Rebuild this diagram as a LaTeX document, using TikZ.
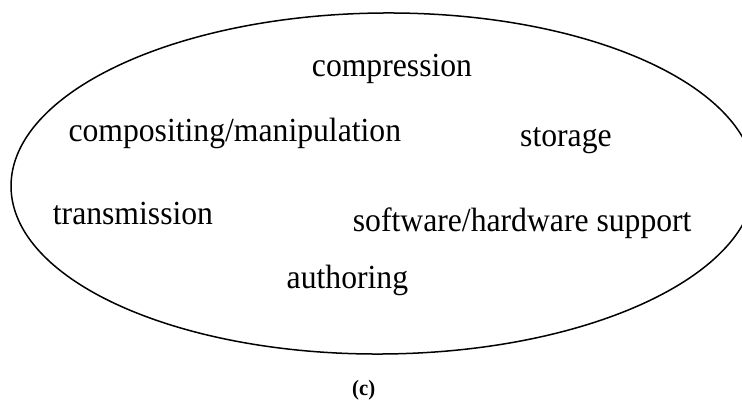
\documentclass[tikz,border=0pt]{standalone}
\usepackage{fontspec}
\setmainfont{Liberation Serif}
\newfontfamily\tallserif{Liberation Serif}[FakeStretch=0.94]
\begin{document}
\begin{tikzpicture}[x=1pt,y=1pt,
  lbl/.style={inner sep=0pt, font=\tallserif\fontsize{33.7}{40}\selectfont},
  caplbl/.style={inner sep=0pt, font=\tallserif\fontsize{22}{26}\selectfont\bfseries},
  outline/.style={line width=1.5pt, draw=black}]
\useasboundingbox (0,0) rectangle (742,405);
\draw[outline] (383,221.5) ellipse [x radius=372, y radius=170.5, rotate=0.5];
\node[lbl, anchor=base] (compression) at (392,328) {compression};
\node[lbl, anchor=base west] (compositing) at (68.3,263.3) {compositing/manipulation};
\node[lbl, anchor=base west] (storage) at (520,258.3) {storage};
\node[lbl, anchor=base west] (transmission) at (52.7,180) {transmission};
\node[lbl, anchor=base west] (software) at (352.7,174) {software/hardware support};
\node[lbl, anchor=base west] (authoring) at (286.5,117) {authoring};
\node[caplbl, anchor=base] (caption) at (363.7,10) {(c)};
\end{tikzpicture}
\end{document}
